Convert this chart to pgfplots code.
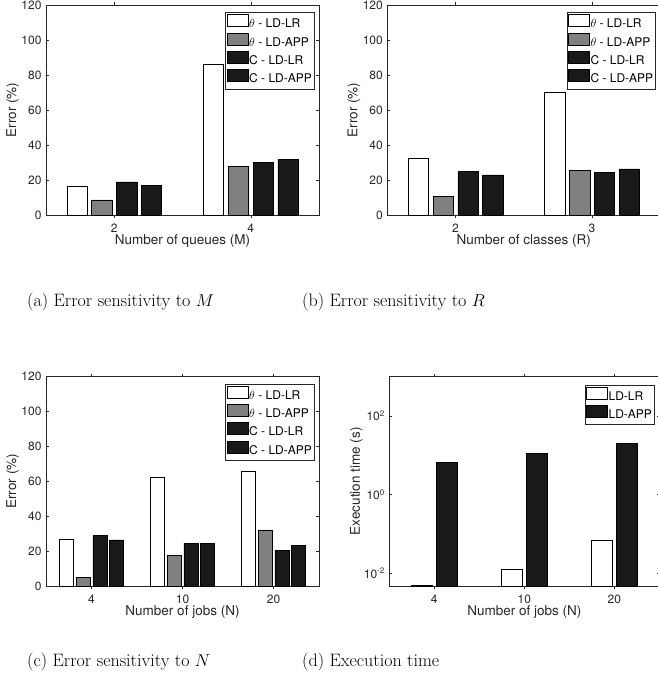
\documentclass[border=0pt]{standalone}
\usepackage{fontspec}
\usepackage{pgfplots}
\pgfplotsset{compat=1.18}
\newfontfamily\zzHv{TeX Gyre Heros}
\definecolor{axc}{gray}{0.15}
\definecolor{bgray}{gray}{0.5}
\definecolor{bblack}{gray}{0.1}
\newcommand{\zzTickF}{\zzHv\fontsize{12}{14}\selectfont}
\newcommand{\zzLabF}{\zzHv\fontsize{13.5}{15}\selectfont}
\newcommand{\zzLegF}{\zzHv\fontsize{12}{14}\selectfont}
\newcommand{\zzCapF}{\fontsize{18}{21}\selectfont}
\pgfplotsset{
  matleg/.style={legend image code/.code={\draw[##1,line width=0.5pt] (0pt,-1.8pt) rectangle (21pt,10.2pt);}},
  matax/.style={
    scale only axis, width=273pt, height=210pt,
    axis line style={draw=axc, line width=0.5pt},
    every tick/.style={draw=axc, line width=0.5pt},
    tick align=inside, major tick length=2.8pt, minor tick length=0pt,
    /pgf/number format/assume math mode=true,
    ticklabel style={font=\zzTickF, text=axc},
    xticklabel style={inner sep=0pt, anchor=north, yshift=-6pt},
    yticklabel style={inner sep=0pt, anchor=east, xshift=-4.3pt},
    every axis x label/.style={at={(axis description cs:0.5,-0.125)}, anchor=center, font=\zzLabF, text=axc},
    every axis y label/.style={at={(axis description cs:-0.122,0.5)}, rotate=90, anchor=center, font=\zzLabF, text=axc},
    ybar, enlargelimits=false,
    every axis plot post/.append style={draw=black, line width=0.5pt, matleg},
    legend style={at={(rel axis cs:0.982,0.965)}, anchor=north east, draw=axc, line width=0.5pt, fill=white, font=\zzLegF, inner xsep=1pt, inner ysep=1.5pt, row sep=0.5pt, nodes={inner sep=1pt, text height=9.5pt, text depth=3.5pt}},
    legend cell align=left,
  },
  errax/.style={matax, ymin=0, ymax=120, ytick={0,20,40,60,80,100,120}, ylabel={Error (\%)}},
}
\begin{document}
\begin{tikzpicture}
\useasboundingbox (0,0) rectangle (657pt,-690pt);
% (a)
\begin{axis}[errax, at={(46pt,-215pt)}, anchor=south west,
  xmin=0.5, xmax=2.5, xtick={1,2}, xticklabels={2,4},
  xlabel={Number of queues (M)}]
\addplot[fill=white, bar shift=-37.2pt, bar width=20.3pt] coordinates {(1,16.6) (2,86.3)};
\addplot[fill=bgray, bar shift=-12.4pt, bar width=20.3pt] coordinates {(1,8.6) (2,28.0)};
\addplot[fill=bblack, bar shift=12.4pt, bar width=20.3pt] coordinates {(1,19.0) (2,30.1)};
\addplot[fill=bblack, bar shift=37.2pt, bar width=20.3pt] coordinates {(1,17.1) (2,32.0)};
\legend{$\theta$ - LD-LR, $\theta$ - LD-APP, C - LD-LR, C - LD-APP}
\end{axis}
% (b)
\begin{axis}[errax, at={(387.3pt,-215pt)}, anchor=south west,
  xmin=0.5, xmax=2.5, xtick={1,2}, xticklabels={2,3},
  xlabel={Number of classes (R)}]
\addplot[fill=white, bar shift=-37.2pt, bar width=20.3pt] coordinates {(1,32.6) (2,70.1)};
\addplot[fill=bgray, bar shift=-12.4pt, bar width=20.3pt] coordinates {(1,10.5) (2,25.7)};
\addplot[fill=bblack, bar shift=12.4pt, bar width=20.3pt] coordinates {(1,24.8) (2,24.4)};
\addplot[fill=bblack, bar shift=37.2pt, bar width=20.3pt] coordinates {(1,23.0) (2,26.3)};
\legend{$\theta$ - LD-LR, $\theta$ - LD-APP, C - LD-LR, C - LD-APP}
\end{axis}
% (c)
\begin{axis}[errax, height=209.5pt, at={(46pt,-586pt)}, anchor=south west,
  xmin=0.5, xmax=3.5, xtick={1,2,3}, xticklabels={4,10,20},
  xlabel={Number of jobs (N)}]
\addplot[fill=white, bar shift=-25pt, bar width=14pt] coordinates {(1,26.9) (2,62.1) (3,65.7)};
\addplot[fill=bgray, bar shift=-8.35pt, bar width=14pt] coordinates {(1,4.8) (2,17.6) (3,32.1)};
\addplot[fill=bblack, bar shift=8.35pt, bar width=14pt] coordinates {(1,29.0) (2,24.5) (3,20.4)};
\addplot[fill=bblack, bar shift=25pt, bar width=14pt] coordinates {(1,26.4) (2,24.5) (3,23.3)};
\legend{$\theta$ - LD-LR, $\theta$ - LD-APP, C - LD-LR, C - LD-APP}
\end{axis}
% (d)
\begin{axis}[matax, width=270pt, height=209.5pt, at={(389.3pt,-586pt)}, anchor=south west,
  ymode=log, log origin y=infty, ymin=0.0047, ymax=1000,
  ytick={0.01,1,100}, yticklabels={10\textsuperscript{-2},10\textsuperscript{0},10\textsuperscript{2}},
  xmin=0.5, xmax=3.5, xtick={1,2,3}, xticklabels={4,10,20},
  xlabel={Number of jobs (N)}, ylabel={Execution time (s)},
  legend style={at={(rel axis cs:0.981,0.96)}}]
\addplot[fill=white, bar shift=-12.9pt, bar width=21pt] coordinates {(1,0.0048) (2,0.0129) (3,0.0683)};
\addplot[fill=bblack, bar shift=12.9pt, bar width=21pt] coordinates {(1,6.56) (2,10.9) (3,19.7)};
\legend{LD-LR, LD-APP}
\end{axis}
\node[anchor=base west, inner sep=0pt] at (27pt,-306.7pt) {\zzCapF (a) Error sensitivity to $M$};
\node[anchor=base west, inner sep=0pt] at (302pt,-306.7pt) {\zzCapF (b) Error sensitivity to $R$};
\node[anchor=base west, inner sep=0pt] at (27pt,-666.7pt) {\zzCapF (c) Error sensitivity to $N$};
\node[anchor=base west, inner sep=0pt] at (302pt,-666.7pt) {\zzCapF (d) Execution time};
\end{tikzpicture}
\end{document}
